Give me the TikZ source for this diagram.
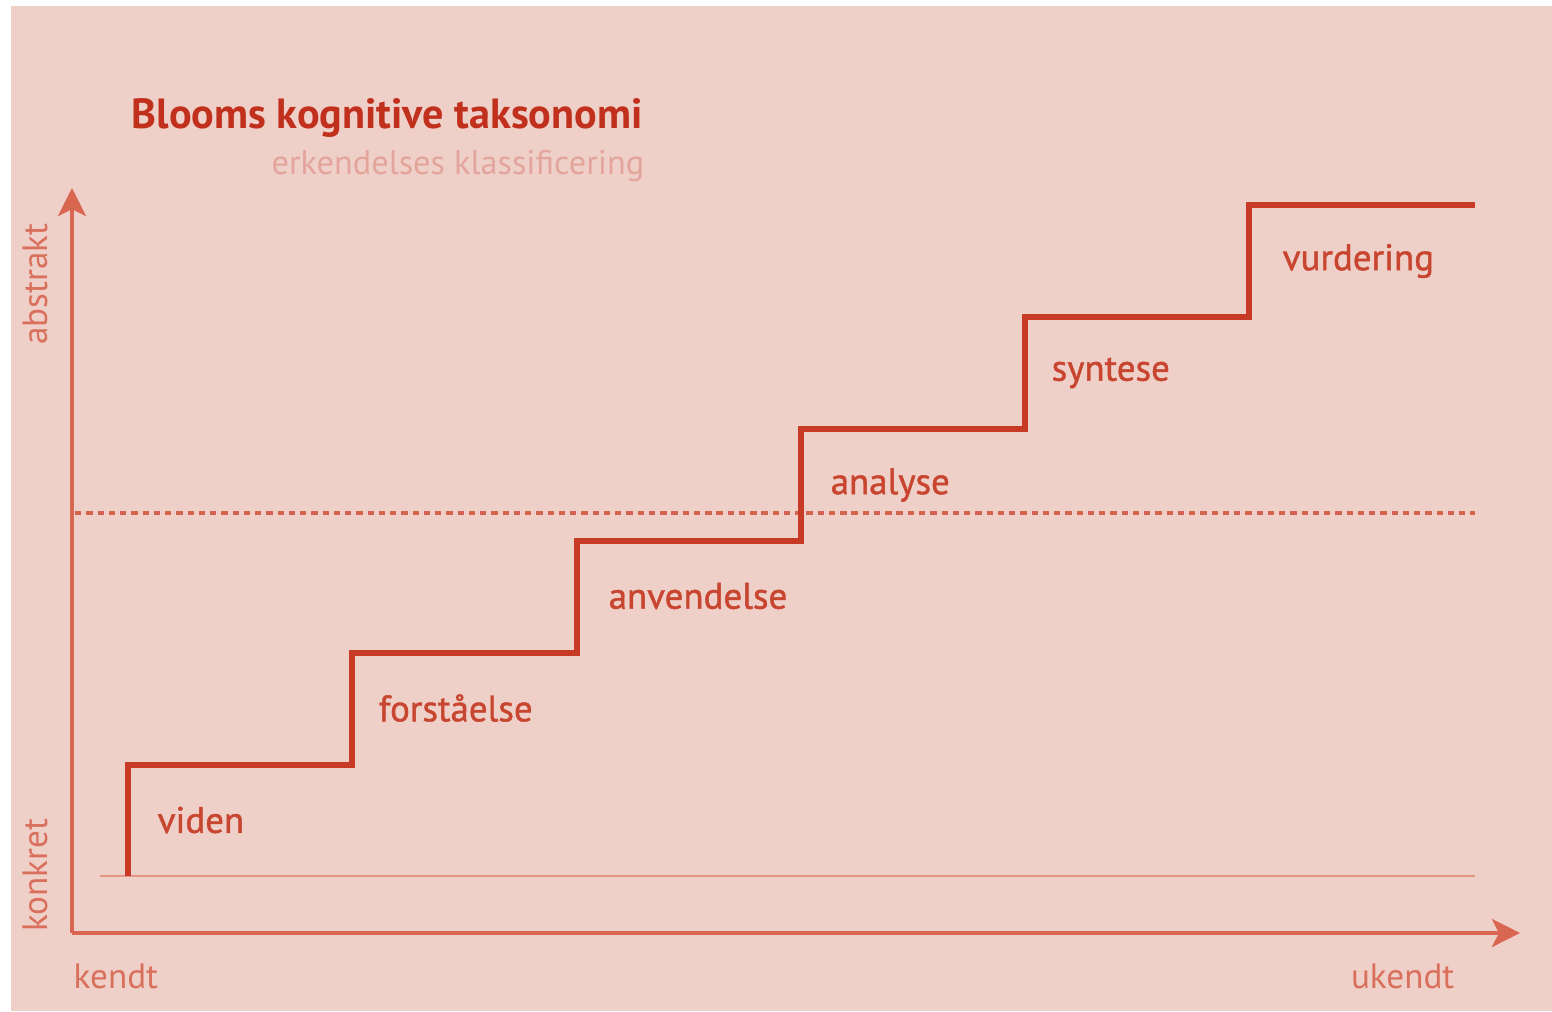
\documentclass[tikz,border=0pt]{standalone}
\usepackage{fontspec}
\setmainfont{PT Sans}
\newfontfamily\semibfont[FakeBold=1.2]{PT Sans}
\usetikzlibrary{arrows.meta}
\definecolor{bg}{HTML}{EFD0C9}
\definecolor{stairc}{HTML}{C63A26}
\definecolor{axisc}{HTML}{D86650}
\definecolor{thinc}{HTML}{E29484}
\definecolor{dotsc}{HTML}{D3634F}
\definecolor{titlec}{HTML}{C0301C}
\definecolor{subc}{HTML}{E3A59B}
\definecolor{labc}{HTML}{C84530}
\definecolor{axlab}{HTML}{D9705C}
\tikzset{
  lvl/.style={text=labc, anchor=west, inner sep=0pt, font=\semibfont\fontsize{10.5}{13}\selectfont},
  axtext/.style={text=axlab, inner sep=0pt, font=\fontsize{10}{11}\selectfont},
  axline/.style={draw=axisc, line width=0.9pt, -{Stealth[length=8pt,width=8pt,inset=2pt]}},
  stairline/.style={draw=stairc, line width=1.45pt, line join=miter},
}
\begin{document}
\begin{tikzpicture}[x=0.01cm,y=-0.01cm]
\useasboundingbox (0,0) rectangle (1552,1011);
\fill[white] (0,0) rectangle (1552,1011);
\fill[bg] (11,6) rectangle (1552,1011);
% title
\node[anchor=base west, inner sep=0pt, text=titlec, font=\fontsize{12}{14}\selectfont\bfseries] (title) at (131,128) {Blooms kognitive taksonomi};
\node[anchor=base east, inner sep=0pt, text=subc, font=\fontsize{9.75}{11}\selectfont] (subtitle) at (645,174) {erkendelses klassificering};
% axes
\coordinate (O) at (72,933);
\coordinate (ytop) at (72,188);
\coordinate (xend) at (1520,933);
\draw[axline] (O) -- (ytop);
\draw[axline] (O) -- (xend);
% baseline and dotted line
\coordinate (bl) at (100,876);
\coordinate (br) at (1475,876);
\draw[draw=thinc, line width=0.45pt] (bl) -- (br);
\coordinate (dl) at (75,513);
\coordinate (dr) at (1475,513);
\draw[draw=dotsc, line width=1pt, dash pattern=on 1.8pt off 1.4pt] (dl) -- (dr);
% stairs
\coordinate (s0) at (128,876);
\draw[stairline] (s0) |- (352,765) |- (577,653) |- (801,541) |- (1025,429) |- (1249,317) |- (1475,205);
% level labels
\node[lvl] (viden) at (157,820) {viden};
\node[lvl] (forst) at (378,708) {forståelse};
\node[lvl] (anv) at (608,596) {anvendelse};
\node[lvl] (ana) at (830,485) {analyse};
\node[lvl] (syn) at (1051,373) {syntese};
\node[lvl] (vur) at (1282,261) {vurdering};
% axis labels
\node[axtext, rotate=90] (abstrakt) at (35,284) {abstrakt};
\node[axtext, rotate=90] (konkret) at (35,875) {konkret};
\node[axtext, anchor=west] (kendt) at (73,976) {kendt};
\node[axtext, anchor=east] (ukendt) at (1455,976) {ukendt};
\end{tikzpicture}
\end{document}
